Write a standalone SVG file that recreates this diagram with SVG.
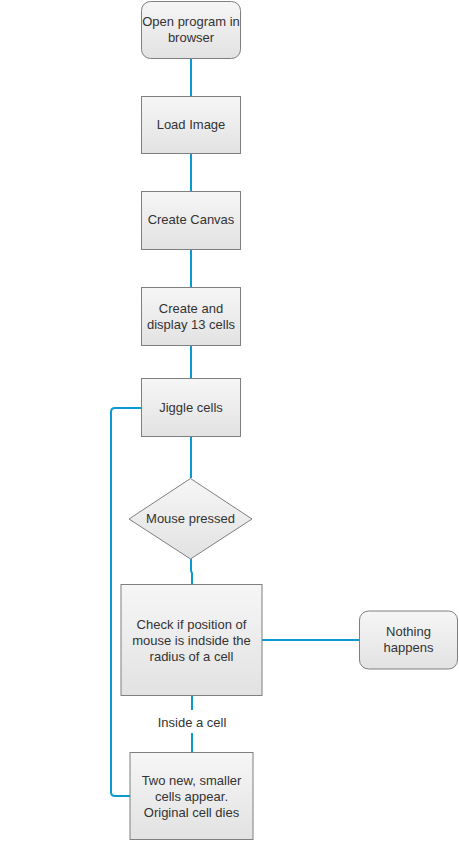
<svg xmlns="http://www.w3.org/2000/svg" width="459" height="841" viewBox="0 0 459 841">
<defs>
<linearGradient id="g" x1="0" y1="0" x2="0" y2="1">
<stop offset="0" stop-color="#f6f6f6"/>
<stop offset="1" stop-color="#e2e2e2"/>
</linearGradient>
<style>
.n{fill:url(#g);stroke:#7f7f7f;stroke-width:1}
.t{font-family:"Liberation Sans",Arial,sans-serif;font-size:13px;fill:#333;text-anchor:middle}
.c{fill:none;stroke:#0b9ad0;stroke-width:2}
</style>
</defs>
<rect width="459" height="841" fill="#fff"/>
<g id="connectors">
<path class="c" d="M191 59V96"/>
<path class="c" d="M191 154V191"/>
<path class="c" d="M191 250V287"/>
<path class="c" d="M191 346V378"/>
<path class="c" d="M191 437V478"/>
<path class="c" d="M191 559V570Q191 572 192 573V584"/>
<path class="c" d="M262 640H359"/>
<path class="c" d="M192 695V710"/>
<path class="c" d="M192 733V752"/>
<path class="c" d="M130 796H115Q111 796 111 792V412Q111 408 115 408H141"/>
</g>
<g id="n1"><rect class="n" x="141.5" y="1.5" width="99" height="57" rx="9"/><text class="t" x="191" y="26">Open program in</text><text class="t" x="191" y="42">browser</text></g>
<g id="n2"><rect class="n" x="141.5" y="96.5" width="99" height="57"/><text class="t" x="191" y="129">Load Image</text></g>
<g id="n3"><rect class="n" x="141.5" y="191.5" width="99" height="58"/><text class="t" x="191" y="224">Create Canvas</text></g>
<g id="n4"><rect class="n" x="141.5" y="287.5" width="99" height="58"/><text class="t" x="191" y="313">Create and</text><text class="t" x="191" y="329">display 13 cells</text></g>
<g id="n5"><rect class="n" x="141.5" y="378.5" width="99" height="58"/><text class="t" x="191" y="412">Jiggle cells</text></g>
<g id="n6"><polygon class="n" points="190.5,478.5 252,519 190.5,559 129,519"/><text class="t" x="190.5" y="523">Mouse pressed</text></g>
<g id="n7"><rect class="n" x="121" y="584.5" width="141" height="111"/><text class="t" x="191.5" y="629">Check if position of</text><text class="t" x="191.5" y="645">mouse is indside the</text><text class="t" x="191.5" y="661">radius of a cell</text></g>
<g id="n8"><rect class="n" x="359.5" y="611" width="98" height="58" rx="9"/><text class="t" x="408.5" y="636">Nothing</text><text class="t" x="408.5" y="652">happens</text></g>
<g id="lbl"><text class="t" x="192" y="727">Inside a cell</text></g>
<g id="n9"><rect class="n" x="130" y="752.5" width="123" height="87"/><text class="t" x="191.5" y="785">Two new, smaller</text><text class="t" x="191.5" y="801">cells appear.</text><text class="t" x="191.5" y="817">Original cell dies</text></g>
</svg>
